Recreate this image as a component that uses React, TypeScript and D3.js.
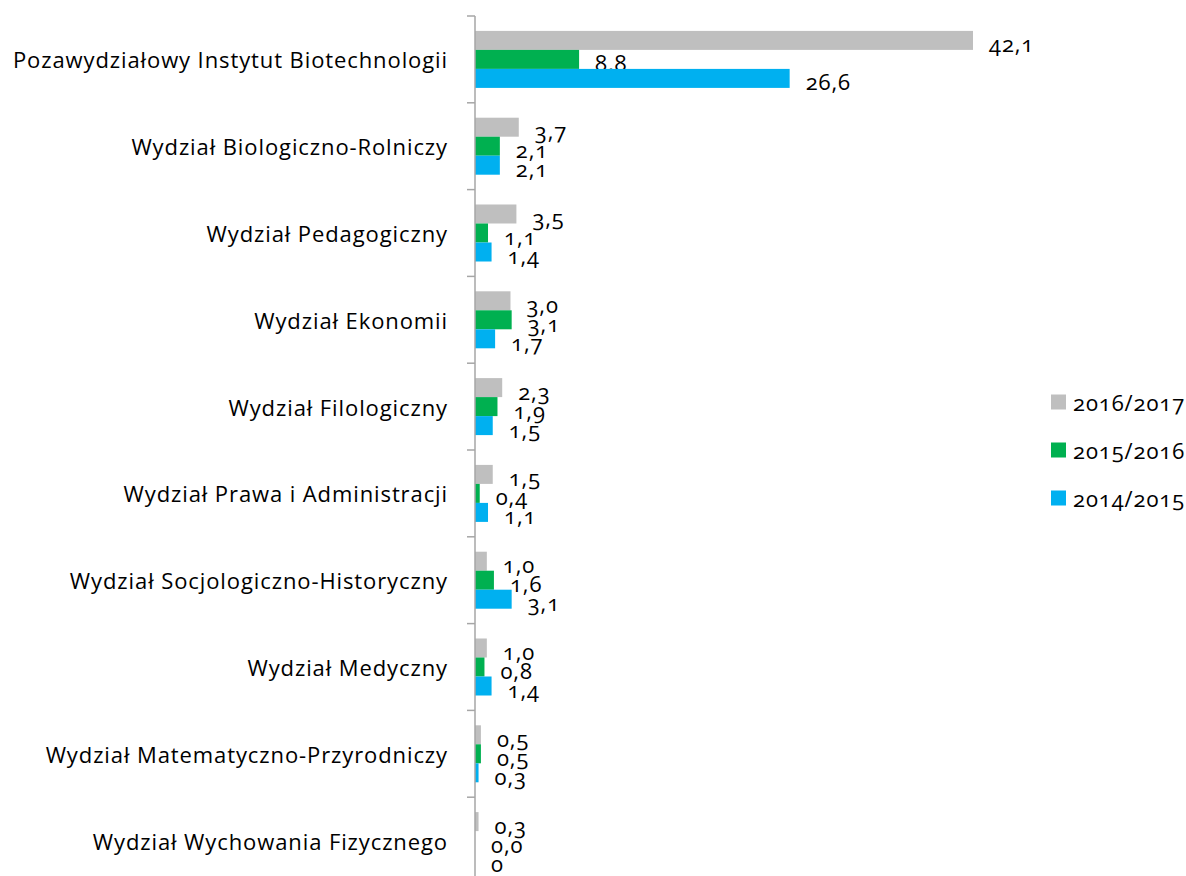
import React from "react";
import * as d3 from "d3";

const categories = [
  "Pozawydziałowy Instytut Biotechnologii",
  "Wydział Biologiczno-Rolniczy",
  "Wydział Pedagogiczny",
  "Wydział Ekonomii",
  "Wydział Filologiczny",
  "Wydział Prawa i Administracji",
  "Wydział Socjologiczno-Historyczny",
  "Wydział Medyczny",
  "Wydział Matematyczno-Przyrodniczy",
  "Wydział Wychowania Fizycznego",
];
const seriesNames = ["2016/2017", "2015/2016", "2014/2015"];
const colors = ["#bfbfbf", "#00b050", "#00b0f0"];
const v2016 = [42.1, 3.7, 3.5, 3.0, 2.3, 1.5, 1.0, 1.0, 0.5, 0.3];
const v2015 = [8.8, 2.1, 1.1, 3.1, 1.9, 0.4, 1.6, 0.8, 0.5, 0.0];
const v2014 = [26.6, 2.1, 1.4, 1.7, 1.5, 1.1, 3.1, 1.4, 0.3, 0];
const l2016 = ["42,1", "3,7", "3,5", "3,0", "2,3", "1,5", "1,0", "1,0", "0,5", "0,3"];
const l2015 = ["8,8", "2,1", "1,1", "3,1", "1,9", "0,4", "1,6", "0,8", "0,5", "0,0"];
const l2014 = ["26,6", "2,1", "1,4", "1,7", "1,5", "1,1", "3,1", "1,4", "0,3", "0"];
const seriesValues = [v2016, v2015, v2014];
const seriesLabels = [l2016, l2015, l2014];

const W = 1186;
const H = 876;
const FONT = "'Open Sans', sans-serif";
const FS = 22;
const LS = 0.9;

export default function App() {
  const x0 = 475;
  const x = d3.scaleLinear().domain([0, 42.1]).range([x0, 973]);
  const y = d3.scaleBand<string>().domain(categories).range([16, 884]).paddingInner(0);
  const bw = y.bandwidth();
  const ys = d3.scaleBand<string>().domain(seriesNames).range([0, bw]).paddingInner(0).paddingOuter(0.784);

  const ticks = [...categories.map((c) => y(c) as number), 884];

  return (
    <svg width={W} height={H} style={{ position: "absolute", left: 0, top: 0 }} fontFamily={FONT}>
      {categories.map((c, i) => (
        <g key={c}>
          {seriesNames.map((s, j) => {
            const v = seriesValues[j][i];
            const yy = (y(c) as number) + (ys(s) as number);
            return (
              <g key={s}>
                <rect x={x(0)} y={yy} width={Math.max(0, x(v) - x(0))} height={ys.bandwidth()} fill={colors[j]} />
                <text
                  x={x(v) + 16}
                  y={yy + ys.bandwidth() / 2 + 3}
                  dominantBaseline="central"
                  fontSize={FS}
                  letterSpacing={LS}
                  fill="#000"
                  style={{ fontVariantNumeric: "oldstyle-nums" }}
                >
                  {seriesLabels[j][i]}
                </text>
              </g>
            );
          })}
          <text
            x={448}
            y={(y(c) as number) + bw / 2}
            textAnchor="end"
            dominantBaseline="central"
            fontSize={FS}
            letterSpacing={LS}
            fill="#000"
          >
            {c}
          </text>
        </g>
      ))}
      <line x1={x0} x2={x0} y1={16} y2={884} stroke="#a6a6a6" strokeWidth={1.5} />
      {ticks.map((t, i) => (
        <line key={i} x1={467} x2={x0} y1={t} y2={t} stroke="#a6a6a6" strokeWidth={1.5} />
      ))}
      {seriesNames.map((s, j) => (
        <g key={s} transform={`translate(1051, ${402 + j * 48})`}>
          <rect x={0} y={-7.5} width={15} height={15} fill={colors[j]} />
          <text x={22} y={0} dominantBaseline="central" fontSize={FS} letterSpacing={LS} fill="#000" style={{ fontVariantNumeric: "oldstyle-nums" }}>
            {s}
          </text>
        </g>
      ))}
    </svg>
  );
}
